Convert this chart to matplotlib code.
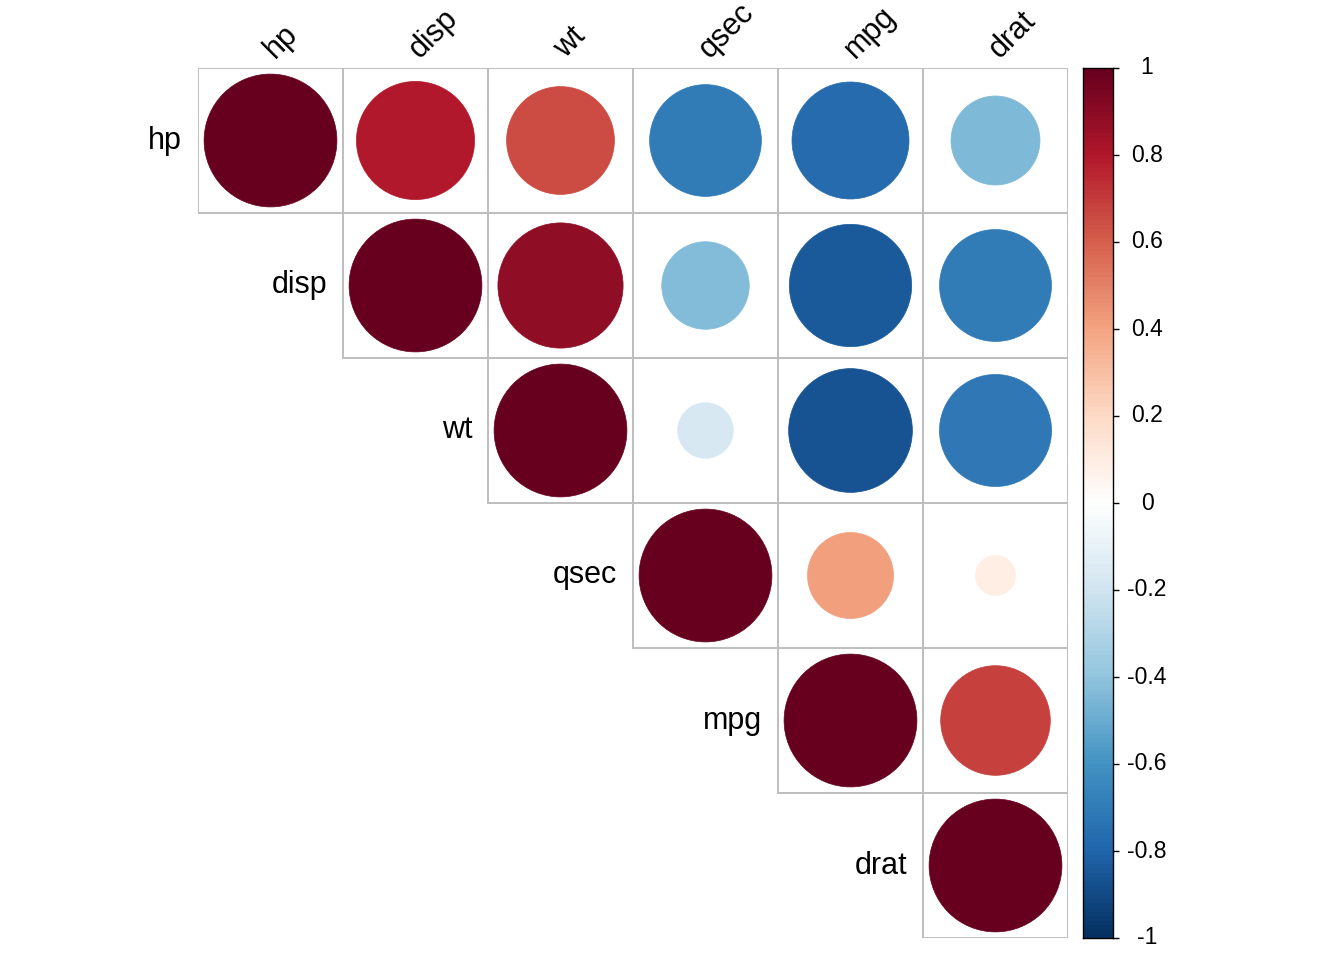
import matplotlib
matplotlib.use("Agg")
import matplotlib.pyplot as plt
from matplotlib.patches import Circle, Rectangle
from matplotlib.colors import LinearSegmentedColormap
import matplotlib.transforms as mtransforms
import numpy as np

plt.rcParams["font.family"] = ["Liberation Sans", "DejaVu Sans"]

# mtcars correlations (upper triangle shown)
labels = ["hp", "disp", "wt", "qsec", "mpg", "drat"]
corr = [
    [1.000, 0.791, 0.659, -0.708, -0.776, -0.449],
    [0.791, 1.000, 0.888, -0.434, -0.848, -0.710],
    [0.659, 0.888, 1.000, -0.175, -0.868, -0.712],
    [-0.708, -0.434, -0.175, 1.000, 0.419, 0.091],
    [-0.776, -0.848, -0.868, 0.419, 1.000, 0.681],
    [-0.449, -0.710, -0.712, 0.091, 0.681, 1.000],
]
cbar_ticks = [1, 0.8, 0.6, 0.4, 0.2, 0, -0.2, -0.4, -0.6, -0.8, -1]
cbar_labels = ["1", "0.8", "0.6", "0.4", "0.2", "0", "-0.2", "-0.4", "-0.6", "-0.8", "-1"]

col2 = ["#053061", "#2166AC", "#4393C3", "#92C5DE", "#D1E5F0", "#FFFFFF",
        "#FDDBC7", "#F4A582", "#D6604D", "#B2182B", "#67001F"]
cmap = LinearSegmentedColormap.from_list("rdbu200", col2, N=200)

W, H = 1344, 960
fig = plt.figure(figsize=(W / 100, H / 100), dpi=100)

n = len(labels)
cell = 145
left, top = 198, 68
ax = fig.add_axes([left / W, (H - top - n * cell) / H, n * cell / W, n * cell / H])
ax.set_xlim(0, n)
ax.set_ylim(n, 0)
ax.axis("off")

for i in range(n):
    for j in range(i, n):
        r = corr[i][j]
        ax.add_patch(Rectangle((j, i), 1, 1, fill=False, edgecolor="#BEBEBE",
                               lw=1.4, zorder=1))
        c = cmap((r + 1) / 2)
        ax.add_patch(Circle((j + 0.5, i + 0.5), 0.458 * np.sqrt(abs(r)),
                            facecolor=c, edgecolor=c, lw=0.5, zorder=2))
    ax.text(i - 0.11, i + 0.5, labels[i], ha="right", va="center", fontsize=22)
    ax.text(i + 0.53, -0.06, labels[i], ha="left", va="baseline", fontsize=22,
            rotation=45, rotation_mode="anchor")

# colour legend
cx, cw = 1083, 30
cax = fig.add_axes([cx / W, (H - top - n * cell) / H, cw / W, n * cell / H])
grad = np.linspace(-1, 1, 200).reshape(-1, 1)
cax.imshow(grad, cmap=cmap, aspect="auto", origin="lower",
           extent=[0, 1, -1, 1], vmin=-1, vmax=1)
cax.set_xlim(0, 1)
cax.set_ylim(-1, 1)
cax.set_xticks([])
cax.yaxis.tick_right()
cax.set_yticks(cbar_ticks)
cax.set_yticklabels([])
cax.tick_params(axis="y", length=4.3, width=1, color="black")
for s in cax.spines.values():
    s.set_linewidth(1.0)
    s.set_color("black")
trans = mtransforms.blended_transform_factory(cax.transAxes, cax.transData)
for v, lab in zip(cbar_ticks, cbar_labels):
    cax.text(64 / cw, v, lab, transform=trans, ha="center", va="center", fontsize=16.5)

plt.savefig("out.png", dpi=100)
